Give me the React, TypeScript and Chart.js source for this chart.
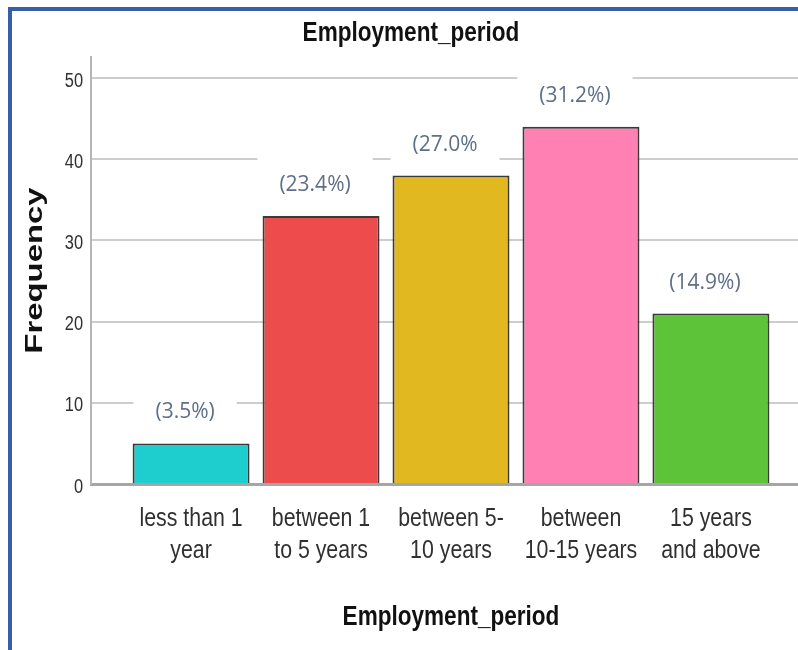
import React, { useEffect, useRef } from "react";
import { Chart, registerables } from "chart.js";

Chart.register(...registerables);

const categories: string[][] = [
  ["less than 1", "year"],
  ["between 1", "to 5 years"],
  ["between 5-", "10 years"],
  ["between", "10-15 years"],
  ["15 years", "and above"],
];
const frequencies: number[] = [5, 33, 38, 44, 21];
const percentLabels: string[] = ["(3.5%)", "(23.4%)", "(27.0%", "(31.2%)", "(14.9%)"];
const barColors: string[] = ["#1ecdce", "#ec4c4c", "#e1b820", "#ff80b3", "#5dc43a"];
const yTicks: number[] = [0, 10, 20, 30, 40, 50];

const TITLE = "Employment_period";
const X_TITLE = "Employment_period";
const Y_TITLE = "Frequency";

const SANS = '"Liberation Sans", Arial, sans-serif';
const NARROW_SCALE = 0.82;

function drawText(
  ctx: CanvasRenderingContext2D,
  text: string,
  x: number,
  y: number,
  font: string,
  color: string,
  align: CanvasTextAlign,
  sx: number
) {
  ctx.save();
  ctx.translate(x, y);
  ctx.scale(sx, 1);
  ctx.font = font;
  ctx.fillStyle = color;
  ctx.textAlign = align;
  ctx.textBaseline = "middle";
  ctx.fillText(text, 0, 0);
  ctx.restore();
}

const labelPlugin = {
  id: "pctLabels",
  afterDatasetsDraw(chart: any) {
    const ctx = chart.ctx;
    const meta = chart.getDatasetMeta(0);
    ctx.save();
    ctx.font = '21px "Open Sans", sans-serif';
    ctx.textAlign = "center";
    ctx.textBaseline = "middle";
    meta.data.forEach((el: any, i: number) => {
      const text = percentLabels[i];
      const x = el.x - 6;
      const y = el.y - 31;
      const w = ctx.measureText(text).width;
      ctx.fillStyle = "#ffffff";
      ctx.fillRect(x - w / 2 - 22, y - 28, w + 44, 54);
      ctx.fillStyle = "#5f6f88";
      ctx.fillText(text, x, y);
    });
    ctx.restore();
  },
};

const textPlugin = {
  id: "axisTexts",
  afterDraw(chart: any) {
    const ctx = chart.ctx;
    const area = chart.chartArea;
    const xs = chart.scales.x;
    const ys = chart.scales.y;

    // chart title
    drawText(ctx, TITLE, 411, 33, `bold 27.5px ${SANS}`, "#111111", "center", NARROW_SCALE);

    // x tick labels
    categories.forEach((lines, i) => {
      const px = xs.getPixelForValue(i);
      lines.forEach((line, j) => {
        drawText(ctx, line, px, area.bottom + 35 + j * 32, `26px ${SANS}`, "#303030", "center", NARROW_SCALE);
      });
    });

    // y tick labels
    yTicks.forEach((v) => {
      const py = ys.getPixelForValue(v);
      drawText(ctx, String(v), area.left - 8, py + 3, `20px ${SANS}`, "#303030", "right", NARROW_SCALE);
    });

    // x axis title
    drawText(ctx, X_TITLE, (area.left + area.right) / 2, 617, `bold 27.5px ${SANS}`, "#111111", "center", NARROW_SCALE);

    // y axis title (stretched)
    ctx.save();
    ctx.translate(area.left - 55, (area.top + area.bottom) / 2);
    ctx.rotate(-Math.PI / 2);
    ctx.scale(1.43, 1);
    ctx.font = `bold 23px ${SANS}`;
    ctx.fillStyle = "#111111";
    ctx.textAlign = "center";
    ctx.textBaseline = "middle";
    ctx.fillText(Y_TITLE, 0, 0);
    ctx.restore();
  },
};

export default function App() {
  const canvasRef = useRef<HTMLCanvasElement | null>(null);

  useEffect(() => {
    document.body.style.margin = "0";
    const canvas = canvasRef.current;
    if (!canvas) return;
    const chart = new Chart(canvas, {
      type: "bar",
      data: {
        datasets: [
          {
            data: frequencies.map((v, i) => ({ x: i, y: v })),
            backgroundColor: barColors,
            borderColor: "#3a3a3a",
            borderWidth: 2,
            categoryPercentage: 1,
            barPercentage: 0.9,
          } as any,
        ],
      },
      options: {
        responsive: false,
        animation: false,
        devicePixelRatio: 1,
        layout: { padding: { left: 0, right: 4, top: 57, bottom: 0 } },
        plugins: {
          legend: { display: false },
          tooltip: { enabled: false },
          title: { display: false },
        },
        scales: {
          x: {
            type: "linear",
            position: "bottom",
            offset: false,
            min: -0.77,
            max: 4.77,
            grid: { display: false, drawTicks: false, offset: false },
            border: { display: true, color: "#a6a6a6", width: 3 },
            afterBuildTicks: (axis: any) => {
              axis.ticks = categories.map((_, i) => ({ value: i }));
            },
            afterFit: (scale: any) => {
              scale.height = 166;
            },
            ticks: { display: false },
          },
          y: {
            type: "linear",
            min: 0,
            max: 52.6,
            afterBuildTicks: (axis: any) => {
              axis.ticks = yTicks.map((v) => ({ value: v }));
            },
            afterFit: (scale: any) => {
              scale.width = 91;
            },
            grid: {
              drawTicks: false,
              color: (c: any) => (c.tick && c.tick.value === 0 ? "rgba(0,0,0,0)" : "#cdcdcd"),
              lineWidth: 2,
            },
            border: { display: true, color: "#b5b5b5", width: 2 },
            ticks: { display: false },
          },
        },
      } as any,
      plugins: [labelPlugin, textPlugin],
    });
    return () => chart.destroy();
  }, []);

  return (
    <div style={{ position: "relative", width: 798, height: 650, overflow: "hidden", background: "#ffffff" }}>
      <canvas ref={canvasRef} width={815} height={650} style={{ display: "block" }} />
      <div
        style={{
          position: "absolute",
          left: 8,
          top: 7,
          width: 800,
          height: 650,
          borderLeft: "4px solid #3a5ea5",
          borderTop: "4px solid #3a5ea5",
          pointerEvents: "none",
        }}
      />
    </div>
  );
}
